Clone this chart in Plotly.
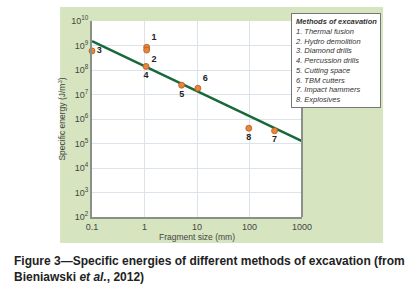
import plotly.graph_objects as go

# Data
labels = ["1", "2", "3", "4", "5", "6", "7", "8"]
frag_size = [1.1, 1.1, 0.1, 1.07, 5.1, 10.4, 300, 97]
energy = [8.5e8, 6.5e8, 6.0e8, 1.4e8, 2.4e7, 1.8e7, 3.3e5, 4.2e5]
label_pos = ["top right", "bottom right", "middle right", "bottom center",
             "bottom center", "top right", "bottom center", "bottom center"]

fit_x = [0.1, 1000]
fit_y = [1.5e9, 1.26e5]

x_tickvals = [0.1, 1, 10, 100, 1000]
x_ticktext = ["0.1", "1", "10", "100", "1000"]
y_exps = [2, 3, 4, 5, 6, 7, 8, 9, 10]

legend_title = "Methods of excavation"
legend_items = ["1. Thermal fusion", "2. Hydro demolition", "3. Diamond drills",
                "4. Percussion drills", "5. Cutting space", "6. TBM cutters",
                "7. Impact hammers", "8. Explosives"]

caption = ("Figure 3\u2014Specific energies of different methods of excavation (from<br>"
           "Bieniawski <i>et al.</i>, 2012)")

fig = go.Figure()
fig.add_trace(go.Scatter(x=fit_x, y=fit_y, mode="lines",
                         line=dict(color="#17693a", width=2.5),
                         hoverinfo="skip", showlegend=False))
fig.add_trace(go.Scatter(x=frag_size, y=energy, mode="markers+text",
                         text=["<b>%s</b>" % s for s in labels], textposition=label_pos,
                         textfont=dict(family="Liberation Sans, Arial", size=9, color="#222"),
                         marker=dict(size=6, color="#e8843c",
                                     line=dict(color="#b85a1c", width=0.8)),
                         cliponaxis=False, showlegend=False))

font_main = "Liberation Sans, Arial, sans-serif"

fig.update_layout(
    width=419, height=306,
    margin=dict(l=92, r=117, t=21, b=89, autoexpand=False),
    paper_bgcolor="white", plot_bgcolor="white",
    font=dict(family=font_main, color="#444"),
    xaxis=dict(type="log", range=[-1, 3], tickvals=x_tickvals, ticktext=x_ticktext,
               automargin=False,
               showgrid=True, gridcolor="#dde3ea", gridwidth=1,
               showline=True, linecolor="#8a8f8a", linewidth=2, mirror=False,
               ticks="", tickfont=dict(size=9, color="#444"), zeroline=False,
               title=dict(text="Fragment size (mm)", font=dict(size=8.5, color="#444"), standoff=1)),
    yaxis=dict(type="log", range=[2, 10],
               automargin=False,
               tickvals=[10 ** e for e in y_exps],
               ticktext=["10<sup>%d</sup>" % e for e in y_exps],
               showgrid=True, gridcolor="#dde3ea", gridwidth=1,
               showline=True, linecolor="#8a8f8a", linewidth=2,
               ticks="", tickfont=dict(size=9, color="#444"), zeroline=False,
               title=dict(text="Specific energy (J/m<sup>3</sup>)", font=dict(size=8.5, color="#444"), standoff=4)),
    shapes=[
        dict(type="rect", xref="paper", yref="paper", x0=-0.152, x1=1.386, y0=-0.133, y1=1.071,
             fillcolor="#d6e5bf", line=dict(width=0), layer="below"),
        dict(type="rect", xref="paper", yref="paper", x0=0, x1=1, y0=0, y1=1,
             fillcolor="white", line=dict(width=0), layer="below"),
        dict(type="line", xref="paper", yref="paper", x0=1, x1=1, y0=0, y1=1,
             line=dict(color="#8a8f8a", width=2)),
    ],
    annotations=[
        dict(xref="paper", yref="paper", x=0.948, y=1.041, xanchor="left", yanchor="top",
             align="left", showarrow=False,
             text="<b><i>" + legend_title + "</i></b><br>" +
                  "<br>".join("<i>" + s + "</i>" for s in legend_items),
             font=dict(family=font_main, size=7.5, color="#333"),
             bgcolor="white", bordercolor="#777", borderwidth=1, borderpad=3),
        dict(xref="paper", yref="paper", x=-0.38, y=-0.18, xanchor="left", yanchor="top",
             align="left", showarrow=False, text="<b>" + caption + "</b>",
             font=dict(family=font_main, size=12, color="#222")),
    ],
)

fig.write_html("out.html", config={"displayModeBar": False},
               post_script="document.body.style.margin='0';")
